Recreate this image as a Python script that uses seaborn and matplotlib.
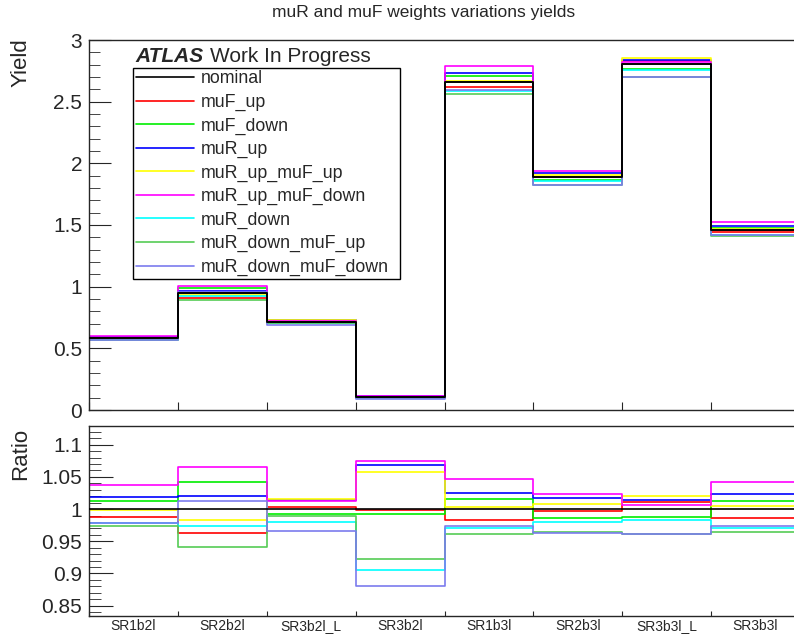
import numpy as np
import pandas as pd
import matplotlib
matplotlib.use("Agg")
import matplotlib.pyplot as plt
from matplotlib.ticker import MultipleLocator
import seaborn as sns

# 데이터
bins = ["SR1b2l", "SR2b2l", "SR3b2l_L", "SR3b2l", "SR1b3l", "SR2b3l", "SR3b3l_L", "SR3b3l"]
nominal = [0.581, 0.946, 0.716, 0.103, 2.663, 1.892, 2.803, 1.460]

# ratio = variation / nominal
r_muF_up = [0.987, 0.963, 1.004, 0.999, 0.9835, 0.9974, 1.0103, 0.9866]
r_muF_down = [1.012, 1.042, 0.992, 0.993, 1.0155, 0.986, 0.9876, 1.0124]
r_muR_up = [1.0186, 1.0206, 1.0139, 1.069, 1.0247, 1.017, 1.0134, 1.0237]
r_muR_up_muF_up = [0.999, 0.9825, 1.016, 1.058, 1.0026, 1.0082, 1.0196, 1.0046]
r_muR_up_muF_down = [1.0371, 1.066, 1.0119, 1.0742, 1.0474, 1.0232, 1.0062, 1.0418]
r_muR_down = [0.979, 0.974, 0.980, 0.906, 0.970, 0.9804, 0.9825, 0.970]
r_muR_down_muF_up = [0.973, 0.9407, 0.990, 0.922, 0.9613, 0.964, 0.962, 0.964]
r_muR_down_muF_down = [0.978, 1.0129, 0.9655, 0.880, 0.9742, 0.963, 0.9619, 0.9732]

names = ["nominal", "muF_up", "muF_down", "muR_up", "muR_up_muF_up",
         "muR_up_muF_down", "muR_down", "muR_down_muF_up", "muR_down_muF_down"]
ratios = [[1.0] * 8, r_muF_up, r_muF_down, r_muR_up, r_muR_up_muF_up,
          r_muR_up_muF_down, r_muR_down, r_muR_down_muF_up, r_muR_down_muF_down]
colors = ["#000000", "#ff0000", "#00ee00", "#0000ff", "#ffff00",
          "#ff00ff", "#00ffff", "#55cc55", "#7b7bee"]
palette = dict(zip(names, colors))

# 계단형 히스토그램용 long-form 테이블
rows_y, rows_r = [], []
for name, r in zip(names, ratios):
    y = [n * v for n, v in zip(nominal, r)]
    for i in range(9):
        j = min(i, 7)
        rows_y.append((name, i, y[j]))
        rows_r.append((name, i, r[j]))
df_y = pd.DataFrame(rows_y, columns=["var", "edge", "yield"])
df_r = pd.DataFrame(rows_r, columns=["var", "edge", "ratio"])

sns.set_style("ticks")
plt.rcParams["font.family"] = ["Liberation Sans", "DejaVu Sans"]

fig = plt.figure(figsize=(7.94, 6.36), dpi=100)
W, H = 794, 636
ax = fig.add_axes([89 / W, 1 - 410 / H, 711 / W, 370 / H])
axr = fig.add_axes([89 / W, 1 - 616 / H, 711 / W, 190 / H])

sns.lineplot(data=df_y, x="edge", y="yield", hue="var", hue_order=names,
             palette=palette, estimator=None, sort=False,
             drawstyle="steps-post", linewidth=1.2, ax=ax)
ax.lines[0].set_zorder(5)
ax.lines[0].set_linewidth(1.4)

sns.lineplot(data=df_r, x="edge", y="ratio", hue="var", hue_order=names,
             palette=palette, estimator=None, sort=False,
             drawstyle="steps-post", linewidth=1.2, legend=False, ax=axr)
axr.lines[0].set_zorder(5)

# 축 설정
for a in (ax, axr):
    a.set_xlim(0, 8)
    a.set_xlabel("")
    a.set_ylabel("")
    a.set_xticks(range(9))
    a.tick_params(axis="x", which="major", direction="in", labelbottom=False)
    a.tick_params(axis="y", which="both", direction="in", labelsize=15, pad=5)
    for s in a.spines.values():
        s.set_linewidth(1.0)

ax.set_ylim(0, 3)
ax.yaxis.set_minor_locator(MultipleLocator(0.1))
ax.set_yticks([0, 0.5, 1, 1.5, 2, 2.5, 3], ["0", "0.5", "1", "1.5", "2", "2.5", "3"])
ax.tick_params(axis="y", which="major", length=16)
ax.tick_params(axis="y", which="minor", length=8)
ax.tick_params(axis="x", which="major", length=6)

axr.set_ylim(0.834, 1.129)
axr.set_yticks([0.85, 0.9, 0.95, 1.0, 1.05, 1.1], ["0.85", "0.9", "0.95", "1", "1.05", "1.1"])
axr.yaxis.set_minor_locator(MultipleLocator(0.01))
axr.tick_params(axis="y", which="major", length=17)
axr.tick_params(axis="y", which="minor", length=8.5)
axr.tick_params(axis="x", which="major", length=3.5)
axr.set_xticks(np.arange(8) + 0.5, bins, minor=True)
axr.tick_params(axis="x", which="minor", length=0, labelsize=10, pad=2, labelbottom=True)

# 범례 (박스 크기를 ROOT 그림에 맞춤)
sns.move_legend(ax, "upper left",
                bbox_to_anchor=(44 / 711, (410 - 278) / 370, 267 / 711, 210.3 / 370),
                mode="expand", title="", frameon=True, fontsize=12.8,
                handlelength=3.3, handletextpad=0.35, borderpad=0.15,
                labelspacing=0.36, borderaxespad=0, fancybox=False, framealpha=1)
leg = ax.get_legend()
leg.get_frame().set_edgecolor("black")
leg.get_frame().set_linewidth(1.0)

# 텍스트
ax.text((135 - 89) / 711, (410 - 61.5) / 370, "ATLAS", transform=ax.transAxes,
        fontsize=15, fontweight="bold", fontstyle="italic", va="baseline")
ax.text((210 - 89) / 711, (410 - 61.5) / 370, "Work In Progress", transform=ax.transAxes,
        fontsize=15, va="baseline")
fig.text(424 / W, 1 - 12 / H, "muR and muF weights variations yields",
         ha="center", va="center", fontsize=12.5)
fig.text(21 / W, 1 - 38 / H, "Yield", rotation=90, ha="center", va="top", fontsize=16)
fig.text(21 / W, 1 - 428 / H, "Ratio", rotation=90, ha="center", va="top", fontsize=16)

fig.savefig("out.png", dpi=100)
